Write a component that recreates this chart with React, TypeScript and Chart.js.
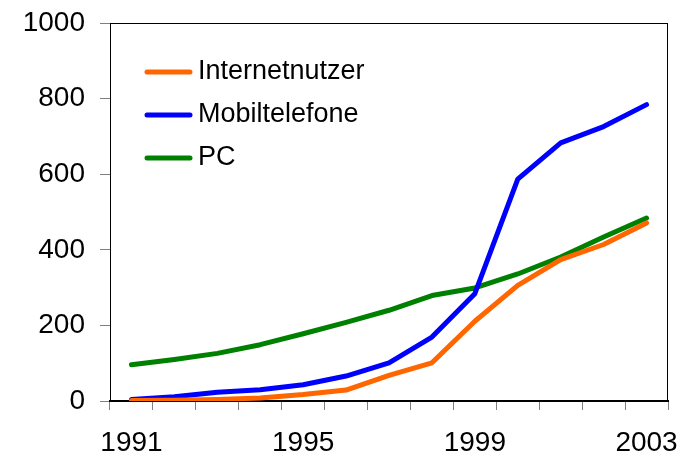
import React, { useEffect, useRef } from "react";
import { Chart, registerables } from "chart.js";

Chart.register(...registerables);

const years = ["1991","1992","1993","1994","1995","1996","1997","1998","1999","2000","2001","2002","2003"];
const internetnutzer = [1, 2, 4, 8, 17, 29, 68, 101, 211, 306, 374, 414, 471];
const mobiltelefone = [4, 11, 23, 30, 43, 66, 101, 169, 284, 587, 683, 726, 784];
const pc = [96, 110, 126, 149, 178, 208, 240, 279, 299, 336, 381, 434, 484];
const yTicks = [0, 200, 400, 600, 800, 1000];

const FONT = "'Liberation Sans', Arial, sans-serif";

const boxAndLegend = {
  id: "boxAndLegend",
  afterDraw(chart: any) {
    const ctx = chart.ctx;
    const a = chart.chartArea;
    ctx.save();
    ctx.strokeStyle = "#000";
    ctx.lineWidth = 1;
    ctx.beginPath();
    ctx.moveTo(a.left, a.top + 0.5);
    ctx.lineTo(a.right, a.top + 0.5);
    ctx.moveTo(a.right - 0.5, a.top);
    ctx.lineTo(a.right - 0.5, a.bottom);
    ctx.stroke();
    // legend
    const x0 = a.left + 37;
    const y0 = 72;
    const gap = 43;
    chart.data.datasets.forEach((ds: any, i: number) => {
      const y = y0 + i * gap;
      ctx.strokeStyle = ds.borderColor;
      ctx.lineWidth = 5;
      ctx.lineCap = "round";
      ctx.beginPath();
      ctx.moveTo(x0, y);
      ctx.lineTo(x0 + 43, y);
      ctx.stroke();
      ctx.fillStyle = "#000";
      ctx.font = `27px ${FONT}`;
      ctx.textBaseline = "middle";
      ctx.textAlign = "left";
      ctx.fillText(ds.label, x0 + 51, y);
    });
    ctx.restore();
  },
};

export default function App() {
  const ref = useRef<HTMLCanvasElement>(null);
  useEffect(() => {
    if (!ref.current) return;
    const chart = new Chart(ref.current, {
      type: "line",
      data: {
        labels: years,
        datasets: [
          { label: "Internetnutzer", data: internetnutzer, borderColor: "#FF6600", backgroundColor: "#FF6600" },
          { label: "Mobiltelefone", data: mobiltelefone, borderColor: "#0000FF", backgroundColor: "#0000FF" },
          { label: "PC", data: pc, borderColor: "#008000", backgroundColor: "#008000" },
        ],
      },
      options: {
        animation: false,
        responsive: false,
        maintainAspectRatio: false,
        layout: { padding: { top: 23, right: 22, left: 0, bottom: 0 } },
        elements: {
          line: { borderWidth: 5, tension: 0, borderJoinStyle: "round" as any, borderCapStyle: "round" as any },
          point: { radius: 0, hoverRadius: 0 },
        },
        plugins: { legend: { display: false }, tooltip: { enabled: false } },
        scales: {
          x: {
            type: "category",
            offset: true,
            grid: { offset: true, drawOnChartArea: false, drawTicks: true, tickLength: 9, color: "#808080", lineWidth: 1 },
            border: { display: true, color: "#000", width: 2 },
            ticks: {
              autoSkip: false,
              maxRotation: 0,
              minRotation: 0,
              padding: 16,
              color: "#000",
              font: { family: FONT, size: 28 },
              callback: (_v: any, i: number) => (i % 4 === 0 ? years[i] : ""),
            },
            afterFit: (s: any) => { s.height = 54; s.paddingLeft = 0; s.paddingRight = 0; },
          },
          y: {
            min: 0,
            max: 1000,
            grid: { drawOnChartArea: false, drawTicks: true, tickLength: 10, color: "#808080", lineWidth: 1 },
            border: { display: true, color: "#000", width: 1 },
            afterBuildTicks: (s: any) => { s.ticks = yTicks.map((v) => ({ value: v })); },
            ticks: {
              padding: 15,
              color: "#000",
              font: { family: FONT, size: 28 },
              callback: (v: any) => String(v),
            },
            afterFit: (s: any) => { s.width = 110; s.paddingTop = 0; s.paddingBottom = 0; },
          },
        },
      },
      plugins: [boxAndLegend],
    });
    return () => chart.destroy();
  }, []);
  return (
    <div style={{ position: "fixed", left: 0, top: 0, width: 690, height: 455, background: "#fff" }}>
      <canvas ref={ref} width={690} height={455} style={{ width: 690, height: 455 }} />
    </div>
  );
}
